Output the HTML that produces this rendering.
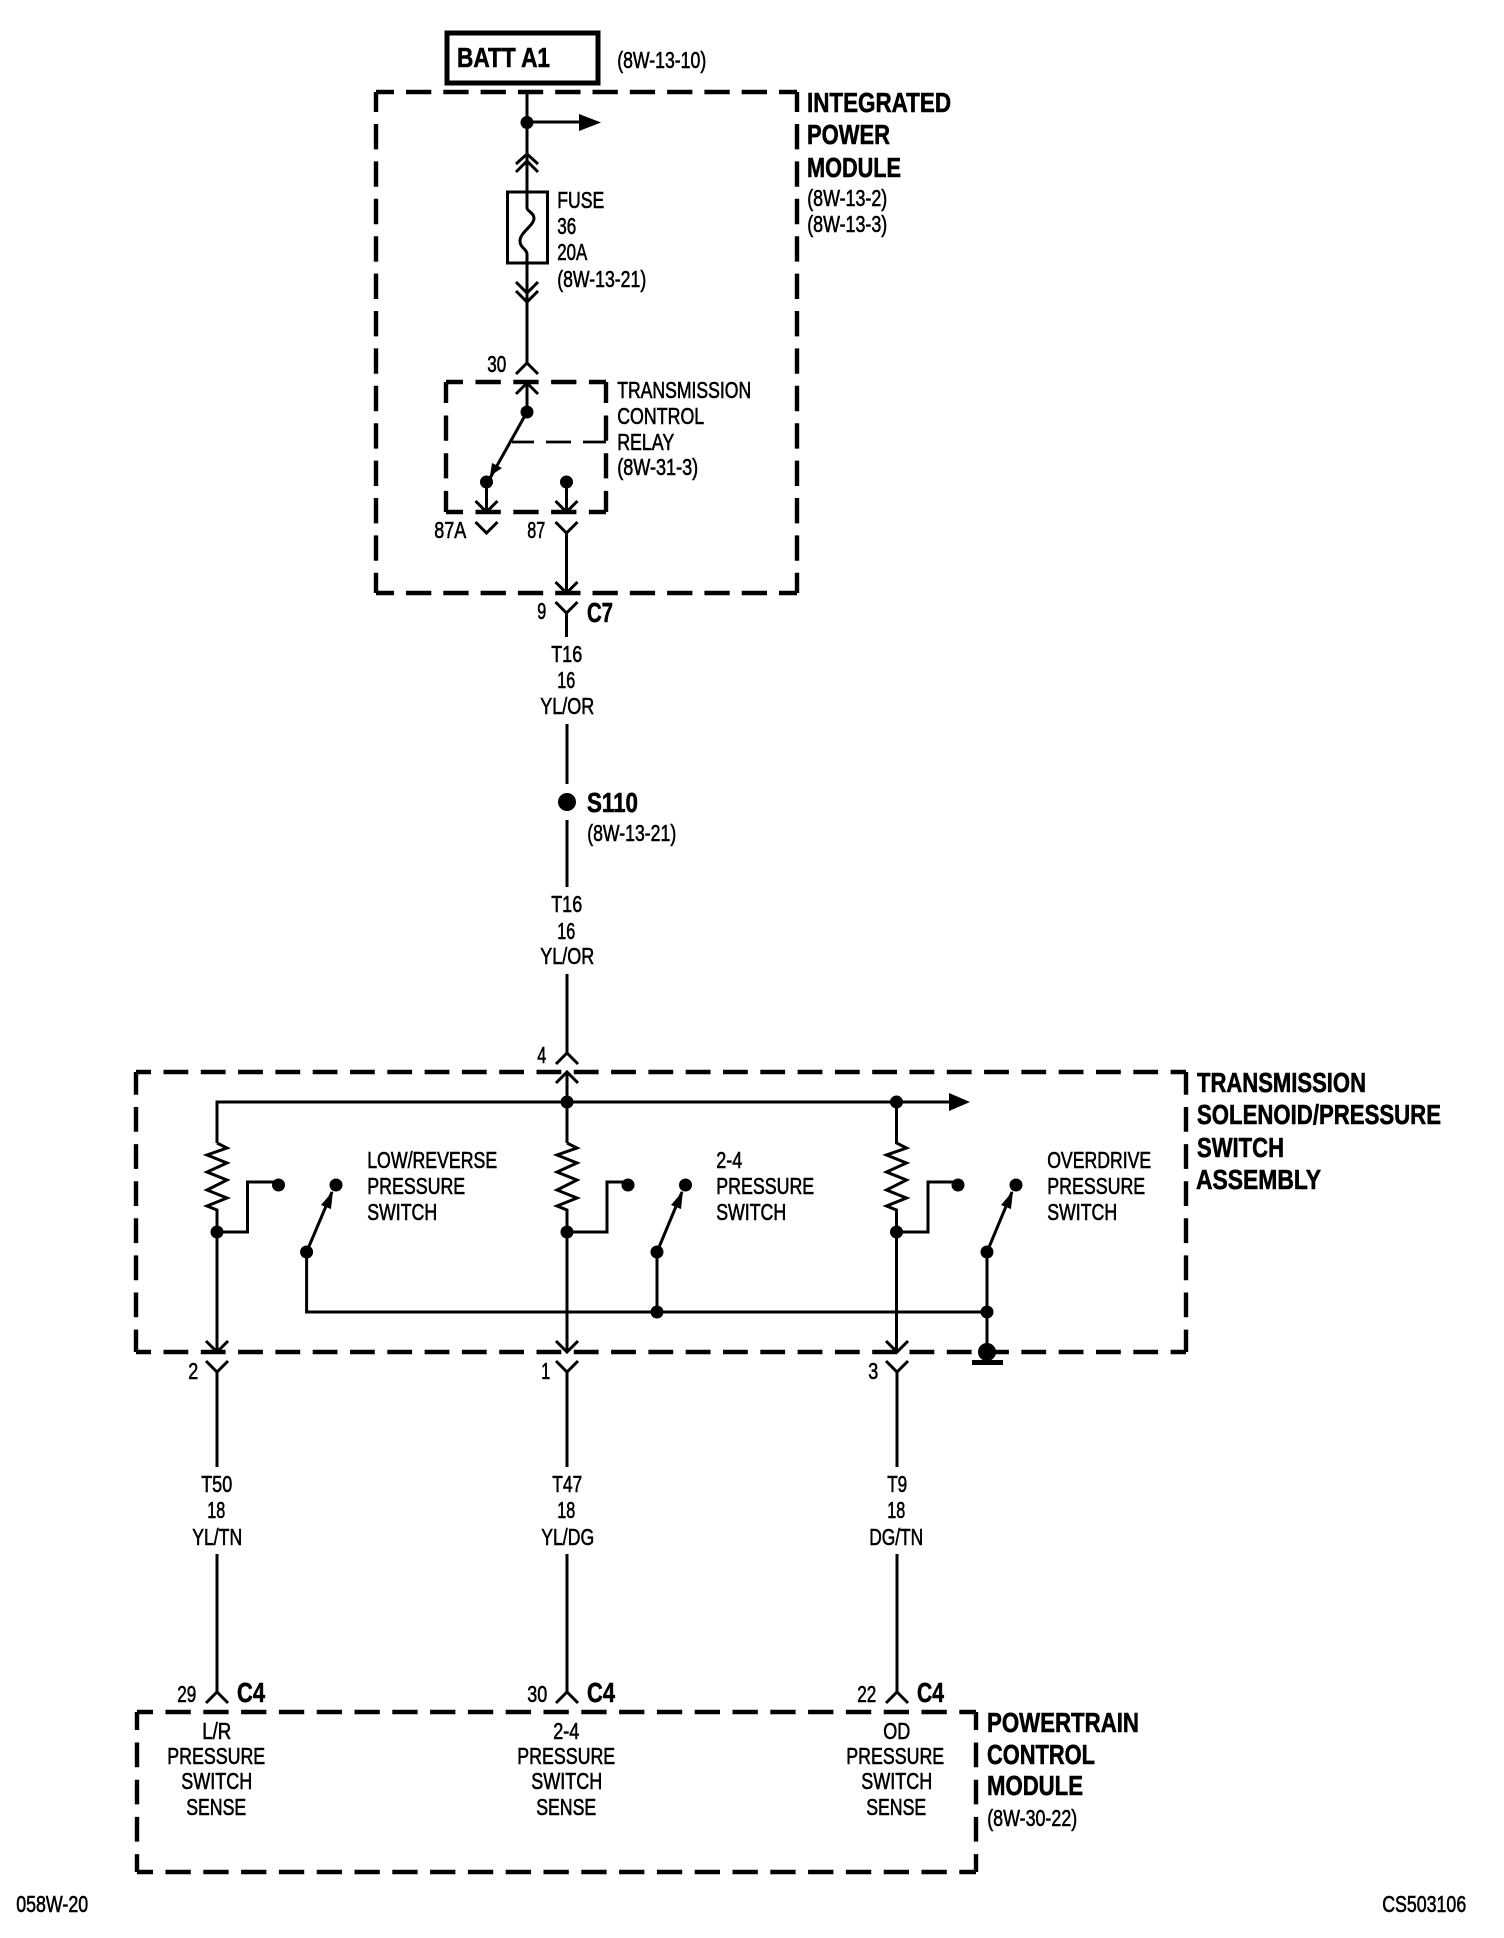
<!DOCTYPE html>
<html><head><meta charset="utf-8"><title>Transmission wiring diagram</title>
<style>
html,body{margin:0;padding:0;background:#fff}
svg{display:block}
text{fill:#000;font-family:"Liberation Sans",Arial,sans-serif}
.r{font-size:23px;stroke:#000;stroke-width:.6px}
.b{font-size:28px;font-weight:bold;stroke:#000;stroke-width:.6px}
.w{fill:none;stroke:#000;stroke-width:3}
.d{fill:none;stroke:#000;stroke-width:4.4}
</style></head><body>
<svg width="1504" height="1938" viewBox="0 0 1504 1938" xmlns="http://www.w3.org/2000/svg" style="width:1504px;height:1938px">
<rect width="1504" height="1938" fill="#fff"/>
<rect x="447" y="33" width="151" height="50" fill="none" stroke="#000" stroke-width="5"/>

<!-- dashed boxes -->
<g class="d">
<!-- IPM -->
<line x1="376" y1="92" x2="797" y2="92" stroke-dasharray="25.3 12" stroke-dashoffset="7.3"/>
<line x1="376" y1="593" x2="797" y2="593" stroke-dasharray="25.3 12" stroke-dashoffset="7.3"/>
<line x1="376" y1="92" x2="376" y2="593" stroke-dasharray="25.4 12" stroke-dashoffset="5.4"/>
<line x1="797" y1="92" x2="797" y2="593" stroke-dasharray="25.4 12" stroke-dashoffset="5.4"/>
<!-- Relay -->
<line x1="446" y1="382" x2="606" y2="382" stroke-dasharray="25.3 12.5" stroke-dashoffset="8.3"/>
<line x1="446" y1="512" x2="606" y2="512" stroke-dasharray="25.3 12.5" stroke-dashoffset="8.3"/>
<line x1="446" y1="382" x2="446" y2="512" stroke-dasharray="25.2 12.5" stroke-dashoffset="4.2"/>
<line x1="606" y1="382" x2="606" y2="512" stroke-dasharray="25.2 12.5" stroke-dashoffset="4.2"/>
<path d="M512 442H534M546 442H571M583 442H606" stroke-width="2.8"/>
<!-- TSPS -->
<line x1="136" y1="1072" x2="1186" y2="1072" stroke-dasharray="24.8 12.5" stroke-dashoffset="9.8"/>
<line x1="136" y1="1352" x2="1186" y2="1352" stroke-dasharray="24.8 12.5" stroke-dashoffset="9.8"/>
<line x1="136" y1="1072" x2="136" y2="1352" stroke-dasharray="24.8 12.3" stroke-dashoffset="2.1"/>
<line x1="1186" y1="1072" x2="1186" y2="1352" stroke-dasharray="24.8 12.3" stroke-dashoffset="2.1"/>
<!-- PCM -->
<line x1="137" y1="1712" x2="976" y2="1712" stroke-dasharray="25.3 12.5" stroke-dashoffset="9.3"/>
<line x1="137" y1="1872" x2="976" y2="1872" stroke-dasharray="25.3 12.5" stroke-dashoffset="9.3"/>
<line x1="137" y1="1712" x2="137" y2="1872" stroke-dasharray="24.7 12.5" stroke-dashoffset="6.7"/>
<line x1="976" y1="1712" x2="976" y2="1872" stroke-dasharray="24.7 12.5" stroke-dashoffset="6.7"/>
</g>

<!-- wires -->
<g class="w">
<path d="M527 92V208C527 211 534 213 534 218C534 226 520 232 520 241C520 248 527 249 527 254V363"/>
<path d="M527 122H582"/>
<rect x="507.5" y="192" width="40" height="71"/>
<path d="M516 164L527 154L538 164M516 172L527 161L538 172"/>
<path d="M516 282L527 293L538 282M516 291L527 302L538 291"/>
<path d="M516 374L527 363L538 374M516 394L527 383L538 394M527 383V412"/>
<path d="M527 412L489 480"/>
<path d="M486.5 482V512M566.5 482V512"/>
<path d="M475.5 501L486.5 512L497.5 501M555.5 501L566.5 512L577.5 501"/>
<path d="M475.5 522L486.5 533L497.5 522"/>
<path d="M555.5 522L566.5 533L577.5 522M566.5 533V593"/>
<path d="M555.5 582L566.5 593L577.5 582"/>
<path d="M555.5 602L566.5 613L577.5 602M566.5 613V637"/>
<path d="M567 724V784M567 820V887M567 974V1053"/>
<path d="M556 1064L567 1053L578 1064M556 1083L567 1072L578 1083M567 1072V1143"/>
<path d="M217 1143V1102H952"/>
<!-- resistors and legs -->
<path d="M217 1143L227 1148L207 1155L227 1163L207 1172L227 1180L207 1190L227 1198L207 1206L217 1210V1352"/>
<path d="M567 1143L577 1148L557 1155L577 1163L557 1172L577 1180L557 1190L577 1198L557 1206L567 1210V1352"/>
<path d="M896.5 1102V1143L906.5 1148L886.5 1155L906.5 1163L886.5 1172L906.5 1180L886.5 1190L906.5 1198L886.5 1206L896.5 1210V1352"/>
<path d="M217 1232H247.5V1182H278"/>
<path d="M567 1232H607V1182H628"/>
<path d="M896.5 1232H928V1182H958"/>
<path d="M306.6 1252L332 1192M657 1252L682 1192M987 1252L1012 1192" />
<path d="M306.6 1252V1312H987M657 1252V1312M987 1252V1352"/>
<path d="M206 1341L217 1352L228 1341M206 1361L217 1372L228 1361M217 1372V1467M217 1554V1692M206 1703L217 1692L228 1703"/>
<path d="M556 1341L567 1352L578 1341M556 1361L567 1372L578 1361M567 1372V1467M567 1554V1692M556 1703L567 1692L578 1703"/>
<path d="M886 1341L897 1352L908 1341M886 1361L897 1372L908 1361M897 1372V1467M897 1554V1692M886 1703L897 1692L908 1703"/>
</g>

<!-- arrowheads -->
<path d="M579 114L601 122.5L579 131Z"/>
<path d="M949 1093L970 1102L949 1111Z"/>
<path d="M490 476L492 463L502 468Z"/>
<path d="M333 1191L321 1205L331 1209Z"/>
<path d="M683 1191L671 1205L681 1209Z"/>
<path d="M1013 1191L1001 1205L1011 1209Z"/>

<!-- dots -->
<g>
<circle cx="527" cy="122.5" r="6.5"/><circle cx="527" cy="412" r="6.5"/><circle cx="486.5" cy="482" r="6.5"/><circle cx="566.5" cy="482" r="6.5"/>
<circle cx="567" cy="802" r="9"/>
<circle cx="567" cy="1102" r="6.5"/><circle cx="896.5" cy="1102" r="6.5"/>
<circle cx="217" cy="1232" r="6.5"/><circle cx="567" cy="1232" r="6.5"/><circle cx="896.5" cy="1232" r="6.5"/>
<circle cx="278.5" cy="1185" r="6.5"/><circle cx="628" cy="1185" r="6.5"/><circle cx="958" cy="1185" r="6.5"/>
<circle cx="336" cy="1185" r="6.5"/><circle cx="685.5" cy="1185" r="6.5"/><circle cx="1016" cy="1185" r="6.5"/>
<circle cx="306.6" cy="1252" r="6.5"/><circle cx="657" cy="1252" r="6.5"/><circle cx="987" cy="1252" r="6.5"/>
<circle cx="657" cy="1312" r="6.5"/><circle cx="987" cy="1312" r="6.5"/>
<ellipse cx="987" cy="1352" rx="9" ry="9"/>
<rect x="972" y="1360" width="31" height="5"/>
</g>

<!-- labels -->
<g class="b" transform="translate(-1,0)">
<text x="458" y="67" textLength="93" lengthAdjust="spacingAndGlyphs">BATT A1</text>
<text x="808" y="112" textLength="144" lengthAdjust="spacingAndGlyphs">INTEGRATED</text>
<text x="808" y="144" textLength="83" lengthAdjust="spacingAndGlyphs">POWER</text>
<text x="808" y="177" textLength="94" lengthAdjust="spacingAndGlyphs">MODULE</text>
<text x="588" y="622" textLength="26" lengthAdjust="spacingAndGlyphs">C7</text>
<text x="588" y="812" textLength="51" lengthAdjust="spacingAndGlyphs">S110</text>
<text x="1198" y="1092" textLength="169" lengthAdjust="spacingAndGlyphs">TRANSMISSION</text>
<text x="1198" y="1124" textLength="244" lengthAdjust="spacingAndGlyphs">SOLENOID/PRESSURE</text>
<text x="1198" y="1157" textLength="87" lengthAdjust="spacingAndGlyphs">SWITCH</text>
<text x="1197" y="1189" textLength="125" lengthAdjust="spacingAndGlyphs">ASSEMBLY</text>
<text x="238" y="1702" textLength="28" lengthAdjust="spacingAndGlyphs">C4</text>
<text x="588" y="1702" textLength="28" lengthAdjust="spacingAndGlyphs">C4</text>
<text x="918" y="1702" textLength="27" lengthAdjust="spacingAndGlyphs">C4</text>
<text x="988" y="1732" textLength="152" lengthAdjust="spacingAndGlyphs">POWERTRAIN</text>
<text x="988" y="1764" textLength="108" lengthAdjust="spacingAndGlyphs">CONTROL</text>
<text x="988" y="1795" textLength="96" lengthAdjust="spacingAndGlyphs">MODULE</text>
</g>
<g class="r" transform="translate(-.8,0)">
<text x="618" y="68" textLength="89" lengthAdjust="spacingAndGlyphs">(8W-13-10)</text>
<text x="808" y="206" textLength="80" lengthAdjust="spacingAndGlyphs">(8W-13-2)</text>
<text x="808" y="232" textLength="80" lengthAdjust="spacingAndGlyphs">(8W-13-3)</text>
<text x="558" y="208" textLength="47" lengthAdjust="spacingAndGlyphs">FUSE</text>
<text x="558" y="234" textLength="19" lengthAdjust="spacingAndGlyphs">36</text>
<text x="558" y="260" textLength="30" lengthAdjust="spacingAndGlyphs">20A</text>
<text x="558" y="287" textLength="89" lengthAdjust="spacingAndGlyphs">(8W-13-21)</text>
<text x="488" y="372" textLength="19" lengthAdjust="spacingAndGlyphs">30</text>
<text x="618" y="398" textLength="134" lengthAdjust="spacingAndGlyphs">TRANSMISSION</text>
<text x="618" y="424" textLength="87" lengthAdjust="spacingAndGlyphs">CONTROL</text>
<text x="618" y="450" textLength="57" lengthAdjust="spacingAndGlyphs">RELAY</text>
<text x="618" y="475" textLength="81" lengthAdjust="spacingAndGlyphs">(8W-31-3)</text>
<text x="435" y="538" textLength="32" lengthAdjust="spacingAndGlyphs">87A</text>
<text x="528" y="538" textLength="18" lengthAdjust="spacingAndGlyphs">87</text>
<text x="538" y="619" textLength="9" lengthAdjust="spacingAndGlyphs">9</text>
<text x="552" y="662" textLength="31" lengthAdjust="spacingAndGlyphs">T16</text>
<text x="558" y="688" textLength="18" lengthAdjust="spacingAndGlyphs">16</text>
<text x="541" y="714" textLength="54" lengthAdjust="spacingAndGlyphs">YL/OR</text>
<text x="588" y="841" textLength="89" lengthAdjust="spacingAndGlyphs">(8W-13-21)</text>
<text x="552" y="912" textLength="31" lengthAdjust="spacingAndGlyphs">T16</text>
<text x="558" y="939" textLength="18" lengthAdjust="spacingAndGlyphs">16</text>
<text x="541" y="964" textLength="54" lengthAdjust="spacingAndGlyphs">YL/OR</text>
<text x="538" y="1063" textLength="9" lengthAdjust="spacingAndGlyphs">4</text>
<text x="368" y="1168" textLength="130" lengthAdjust="spacingAndGlyphs">LOW/REVERSE</text>
<text x="368" y="1194" textLength="98" lengthAdjust="spacingAndGlyphs">PRESSURE</text>
<text x="368" y="1220" textLength="70" lengthAdjust="spacingAndGlyphs">SWITCH</text>
<text x="717" y="1168" textLength="26" lengthAdjust="spacingAndGlyphs">2-4</text>
<text x="717" y="1194" textLength="98" lengthAdjust="spacingAndGlyphs">PRESSURE</text>
<text x="717" y="1220" textLength="70" lengthAdjust="spacingAndGlyphs">SWITCH</text>
<text x="1048" y="1168" textLength="104" lengthAdjust="spacingAndGlyphs">OVERDRIVE</text>
<text x="1048" y="1194" textLength="98" lengthAdjust="spacingAndGlyphs">PRESSURE</text>
<text x="1048" y="1220" textLength="70" lengthAdjust="spacingAndGlyphs">SWITCH</text>
<text x="189" y="1379" textLength="10" lengthAdjust="spacingAndGlyphs">2</text>
<text x="542" y="1379" textLength="9" lengthAdjust="spacingAndGlyphs">1</text>
<text x="869" y="1379" textLength="10" lengthAdjust="spacingAndGlyphs">3</text>
<text x="202" y="1492" textLength="31" lengthAdjust="spacingAndGlyphs">T50</text>
<text x="208" y="1518" textLength="18" lengthAdjust="spacingAndGlyphs">18</text>
<text x="193" y="1545" textLength="50" lengthAdjust="spacingAndGlyphs">YL/TN</text>
<text x="553" y="1492" textLength="30" lengthAdjust="spacingAndGlyphs">T47</text>
<text x="558" y="1518" textLength="18" lengthAdjust="spacingAndGlyphs">18</text>
<text x="542" y="1545" textLength="53" lengthAdjust="spacingAndGlyphs">YL/DG</text>
<text x="888" y="1492" textLength="20" lengthAdjust="spacingAndGlyphs">T9</text>
<text x="888" y="1518" textLength="18" lengthAdjust="spacingAndGlyphs">18</text>
<text x="870" y="1545" textLength="54" lengthAdjust="spacingAndGlyphs">DG/TN</text>
<text x="178" y="1702" textLength="19" lengthAdjust="spacingAndGlyphs">29</text>
<text x="528" y="1702" textLength="20" lengthAdjust="spacingAndGlyphs">30</text>
<text x="858" y="1702" textLength="19" lengthAdjust="spacingAndGlyphs">22</text>
<text x="203" y="1739" textLength="29" lengthAdjust="spacingAndGlyphs">L/R</text>
<text x="168" y="1764" textLength="98" lengthAdjust="spacingAndGlyphs">PRESSURE</text>
<text x="182" y="1789" textLength="71" lengthAdjust="spacingAndGlyphs">SWITCH</text>
<text x="187" y="1815" textLength="60" lengthAdjust="spacingAndGlyphs">SENSE</text>
<text x="554" y="1739" textLength="26" lengthAdjust="spacingAndGlyphs">2-4</text>
<text x="518" y="1764" textLength="98" lengthAdjust="spacingAndGlyphs">PRESSURE</text>
<text x="532" y="1789" textLength="71" lengthAdjust="spacingAndGlyphs">SWITCH</text>
<text x="537" y="1815" textLength="60" lengthAdjust="spacingAndGlyphs">SENSE</text>
<text x="884" y="1739" textLength="27" lengthAdjust="spacingAndGlyphs">OD</text>
<text x="847" y="1764" textLength="98" lengthAdjust="spacingAndGlyphs">PRESSURE</text>
<text x="862" y="1789" textLength="71" lengthAdjust="spacingAndGlyphs">SWITCH</text>
<text x="867" y="1815" textLength="60" lengthAdjust="spacingAndGlyphs">SENSE</text>
<text x="988" y="1826" textLength="90" lengthAdjust="spacingAndGlyphs">(8W-30-22)</text>
<text x="17" y="1912" textLength="72" lengthAdjust="spacingAndGlyphs">058W-20</text>
<text x="1383" y="1912" textLength="84" lengthAdjust="spacingAndGlyphs">CS503106</text>
</g>
</svg>
</body></html>
